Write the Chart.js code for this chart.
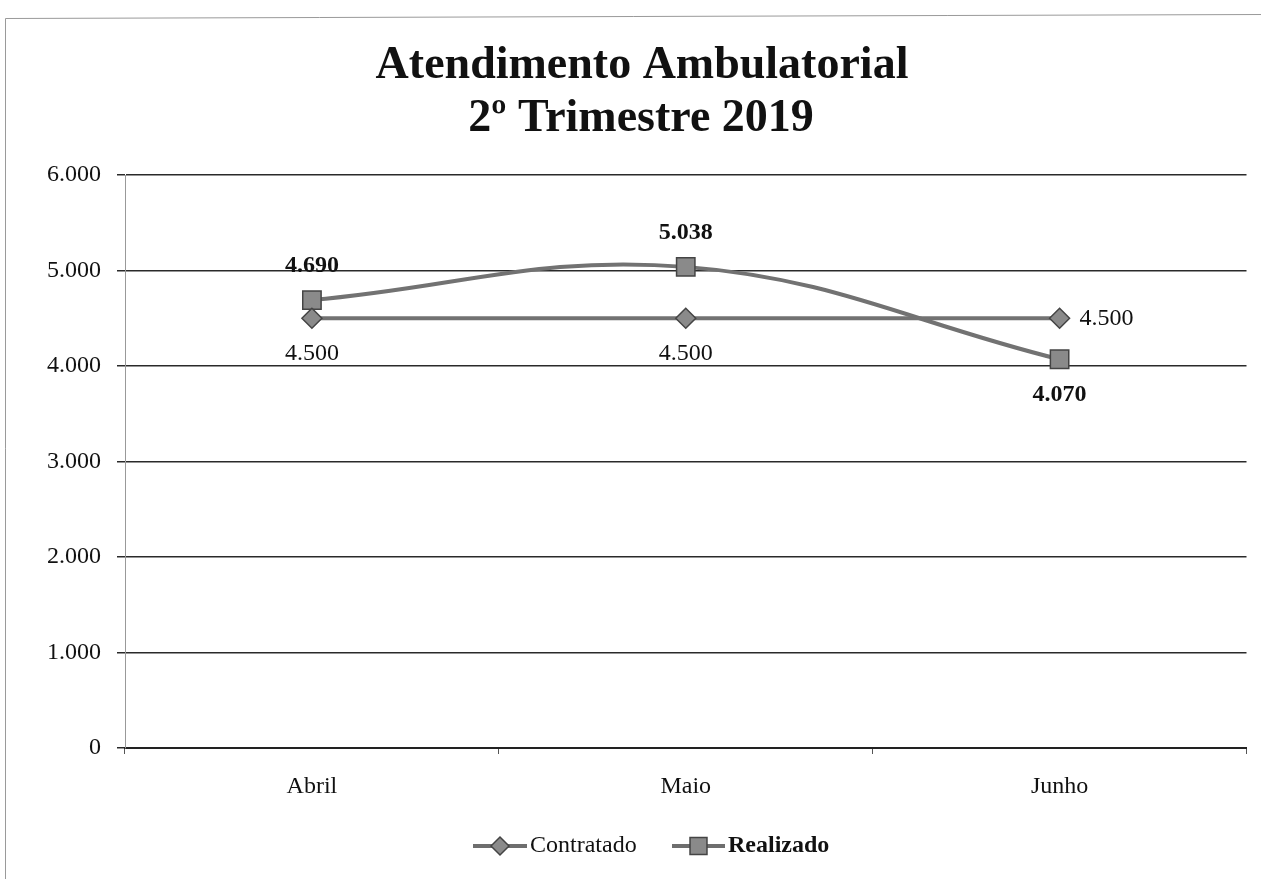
<!DOCTYPE html>
<html>
<head>
<meta charset="utf-8">
<script src="https://cdn.jsdelivr.net/npm/chart.js@4/dist/chart.umd.min.js"></script>
<style>
html,body{margin:0;padding:0;background:#fff;}
#c{display:block;}
</style>
</head>
<body>
<canvas id="c" width="1261" height="879"></canvas>
<script>
const titleLines = ['Atendimento Ambulatorial', '2º Trimestre 2019'];
const categories = ['Abril', 'Maio', 'Junho'];
const contratado = [4500, 4500, 4500];
const realizado = [4690, 5038, 4070];
const contratadoLabelPos = ['below', 'below', 'right'];
const realizadoLabelPos = ['above', 'above', 'below'];
const seriesNames = ['Contratado', 'Realizado'];

function fmt(v) {
  return String(v).replace(/\B(?=(\d{3})+(?!\d))/g, '.');
}

const SERIF = '"Liberation Serif", "Times New Roman", serif';

const framePlugin = {
  id: 'frame',
  beforeDraw(chart) {
    const ctx = chart.ctx;
    ctx.save();
    ctx.fillStyle = '#fff';
    ctx.fillRect(0, 0, chart.width, chart.height);
    ctx.strokeStyle = '#9a9a9a';
    ctx.lineWidth = 1;
    ctx.beginPath();
    ctx.moveTo(5.5, 879);
    ctx.lineTo(5.5, 18.5);
    ctx.lineTo(1261, 14.5);
    ctx.stroke();
    ctx.restore();
  }
};

const titlePlugin = {
  id: 'titleDraw',
  afterDraw(chart) {
    const ctx = chart.ctx;
    ctx.save();
    ctx.fillStyle = '#111';
    ctx.font = 'bold 46px ' + SERIF;
    ctx.textAlign = 'center';
    ctx.textBaseline = 'alphabetic';
    ctx.fillText(titleLines[0], 642, 78);
    ctx.fillText(titleLines[1], 641, 131);
    ctx.restore();
  }
};

const labelPlugin = {
  id: 'dataLabels',
  afterDatasetsDraw(chart) {
    const ctx = chart.ctx;
    ctx.save();
    ctx.fillStyle = '#111';
    ctx.textBaseline = 'middle';
    const cfg = [
      {data: contratado, pos: contratadoLabelPos, bold: false},
      {data: realizado, pos: realizadoLabelPos, bold: true}
    ];
    cfg.forEach((c, di) => {
      const meta = chart.getDatasetMeta(di);
      ctx.font = (c.bold ? 'bold ' : '') + '24px ' + SERIF;
      meta.data.forEach((pt, i) => {
        const txt = fmt(c.data[i]);
        const p = c.pos[i];
        if (p === 'right') {
          ctx.textAlign = 'left';
          ctx.fillText(txt, pt.x + 20, pt.y);
        } else if (p === 'above') {
          ctx.textAlign = 'center';
          ctx.fillText(txt, pt.x, pt.y - 34);
        } else {
          ctx.textAlign = 'center';
          ctx.fillText(txt, pt.x, pt.y + 35);
        }
      });
    });
    ctx.restore();
  }
};

const legendPlugin = {
  id: 'customLegend',
  afterDraw(chart) {
    const ctx = chart.ctx;
    ctx.save();
    const y = 846;
    const items = [
      {x0: 473, x1: 527, style: 'rectRot', r: 9, text: seriesNames[0], bold: false},
      {x0: 672, x1: 725, style: 'rect', r: 12, text: seriesNames[1], bold: true}
    ];
    items.forEach(it => {
      ctx.strokeStyle = '#6e6e6e';
      ctx.lineWidth = 4;
      ctx.beginPath();
      ctx.moveTo(it.x0, y);
      ctx.lineTo(it.x1, y);
      ctx.stroke();
      ctx.fillStyle = '#8a8a8a';
      ctx.strokeStyle = '#444';
      ctx.lineWidth = 1.5;
      Chart.helpers.drawPoint(ctx, {pointStyle: it.style, radius: it.r, borderWidth: 1.5}, (it.x0 + it.x1) / 2, y);
      ctx.fillStyle = '#111';
      ctx.font = (it.bold ? 'bold ' : '') + '24px ' + SERIF;
      ctx.textAlign = 'left';
      ctx.textBaseline = 'middle';
      ctx.fillText(it.text, it.x1 + 3, y);
    });
    ctx.restore();
  }
};

const ctx = document.getElementById('c').getContext('2d');
new Chart(ctx, {
  type: 'line',
  data: {
    labels: categories,
    datasets: [
      {
        label: seriesNames[0],
        data: contratado,
        borderColor: '#727272',
        borderWidth: 4,
        pointStyle: 'rectRot',
        pointRadius: 10,
        pointBackgroundColor: '#8a8a8a',
        pointBorderColor: '#444',
        pointBorderWidth: 1.5,
        tension: 0
      },
      {
        label: seriesNames[1],
        data: realizado,
        borderColor: '#727272',
        borderWidth: 4,
        pointStyle: 'rect',
        pointRadius: 13,
        pointBackgroundColor: '#8a8a8a',
        pointBorderColor: '#444',
        pointBorderWidth: 1.5,
        tension: 0.4
      }
    ]
  },
  options: {
    responsive: false,
    animation: false,
    devicePixelRatio: 1,
    layout: {padding: {top: 175, right: 9, bottom: 71, left: 0}},
    plugins: {
      legend: {display: false},
      title: {display: false},
      tooltip: {enabled: false}
    },
    scales: {
      x: {
        offset: true,
        grid: {offset: true, drawOnChartArea: false, drawTicks: true, tickLength: 6, color: '#555', lineWidth: 1},
        border: {display: true, color: '#222', width: 2},
        ticks: {font: {family: SERIF, size: 24}, color: '#111', padding: 18},
        afterFit(scale) { scale.height = 60; }
      },
      y: {
        min: 0,
        max: 6000,
        ticks: {stepSize: 1000, font: {family: SERIF, size: 24}, color: '#111', padding: 16,
          callback: v => fmt(v)},
        grid: {color: '#2a2a2a', lineWidth: 1.5, tickLength: 8},
        border: {display: true, color: '#999', width: 1},
        afterFit(scale) { scale.width = 125; }
      }
    }
  },
  plugins: [framePlugin, labelPlugin, titlePlugin, legendPlugin]
});
</script>
</body>
</html>
